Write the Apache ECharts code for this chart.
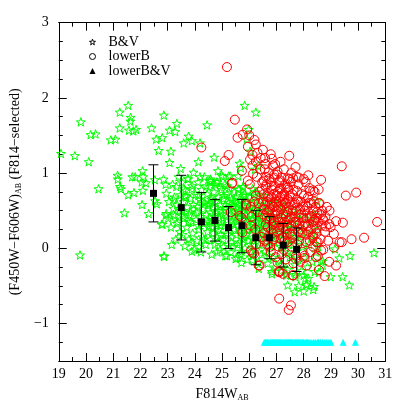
<!DOCTYPE html>
<html><head><meta charset="utf-8">
<script src="https://cdn.jsdelivr.net/npm/echarts@6/dist/echarts.min.js"></script>
<style>html,body{margin:0;padding:0;background:#fff}#c{width:407px;height:407px}</style>
</head><body><div id="c"></div>
<script>
// ---------- data ----------
const greenSparse = [[21.55,1.90],[21.24,1.81],[21.64,1.74],[21.63,1.69],[19.81,1.68],[22.86,1.77],[23.34,1.66],[21.24,1.60],[21.58,1.57],[21.84,1.58],[21.74,1.56],[22.41,1.60],[23.07,1.57],[23.28,1.55],[20.17,1.51],[20.35,1.52],[20.91,1.44],[21.08,1.45],[22.58,1.45],[22.80,1.47],[23.59,1.40],[19.08,1.26],[19.59,1.23],[20.10,1.15],[22.67,1.30],[23.12,1.29],[23.07,1.14],[23.48,1.06],[21.16,0.97],[21.17,0.92],[21.70,0.95],[21.81,0.95],[22.08,1.03],[22.10,0.95],[22.05,0.88],[22.20,0.87],[21.25,0.82],[21.28,0.79],[20.46,0.79],[22.09,0.77],[21.76,0.74],[21.55,0.71],[22.53,0.91],[22.85,0.92],[22.93,0.85],[23.32,0.82],[23.59,0.79],[22.95,0.73],[23.21,0.65],[22.06,0.58],[22.54,0.63],[22.60,0.59],[22.30,0.46],[21.41,0.47],[22.93,0.44],[22.78,0.32],[23.26,0.43],[23.34,0.33],[23.21,0.53],[22.87,-0.11],[19.78,-0.09],
[25.83,1.90],[26.24,1.81],[24.45,1.64],[23.77,1.49],[23.89,1.43],[24.19,1.40],[24.71,1.21],[24.13,1.15],[25.65,1.13],[24.85,1.03],[23.95,1.01],[24.19,0.95],[23.74,0.93],[24.57,0.92],[25.30,0.96],[25.03,0.95],[26.21,1.05],[25.98,1.58],[25.91,1.45],[26.03,1.29],[25.69,1.07],[24.98,0.97],[25.24,0.96],[25.59,0.96],[24.54,0.90],[24.83,0.88],[24.42,0.83],[24.74,0.85],[24.95,0.81],[25.18,0.83],[23.89,0.79],[23.66,0.70],[24.13,0.70],[24.60,0.68],[25.07,0.70],[25.59,0.79],[25.77,0.70],[26.12,0.79],[26.33,1.10],[23.56,0.43],[23.95,0.52],[24.48,0.57],[24.95,0.50],[25.42,0.57],[25.77,0.48],[26.35,0.43],[23.77,0.35],[24.54,0.35],[24.95,0.30],[25.36,0.37],[26.12,0.32],[25.77,0.81],
[28.50,0.63],[30.58,-0.06],[29.70,-0.10],[29.31,-0.13],[29.15,-0.01],[28.99,-0.38],[29.43,-0.38],[29.68,-0.49],[28.64,-0.18],[28.70,-0.23],[28.41,-0.31],[26.83,-0.31],[27.36,-0.36],[27.70,-0.35],[28.00,-0.36],[27.41,-0.49],[27.82,-0.50],[28.09,-0.49],[28.38,-0.51],[28.35,-0.55],[28.00,-0.57],[27.67,-0.58],[28.11,-0.48],[28.06,-0.40],[28.70,-0.17],
[22.86,-0.10],[23.89,-0.04],[23.86,0.08],[22.81,0.32],[22.95,0.46],[24.83,-0.05],[25.18,-0.10],[25.50,-0.14],[25.71,-0.19],[26.12,-0.16],[26.35,-0.27],[26.83,-0.34],[27.36,-0.34]];

const greenDense = [[23.05,0.62],[23.12,0.28],[23.18,0.85],[23.22,0.45],[23.3,0.12],[23.35,0.58],[23.4,0.95],[23.45,0.22],[23.48,0.71],[23.02,0.4],[23.25,0.68],[23.38,0.35],[23.15,0.05],[23.44,0.5],
[23.52,0.88],[23.55,0.18],[23.58,0.62],[23.6,0.4],[23.63,0.03],[23.66,0.77],[23.7,0.28],[23.72,0.55],[23.75,0.92],[23.78,0.12],[23.8,0.45],[23.83,0.66],[23.86,0.35],[23.9,0.83],[23.92,0.2],[23.95,0.58],[23.98,-0.02],[23.54,0.5],[23.68,0.68],[23.84,0.48],
[24.02,0.72],[24.04,0.38],[24.07,0.1],[24.1,0.55],[24.12,0.88],[24.15,0.25],[24.18,0.65],[24.2,0.42],[24.22,-0.05],[24.25,0.78],[24.28,0.15],[24.3,0.52],[24.32,0.33],[24.35,0.95],[24.37,0.6],[24.4,0.05],[24.42,0.45],[24.45,0.72],[24.47,0.22],[24.5,0.58],[24.06,0.48],[24.16,0.02],[24.26,0.62],[24.33,0.12],[24.44,0.36],[24.13,0.3],
[24.52,0.3],[24.54,0.82],[24.56,0.12],[24.58,0.48],[24.6,0.65],[24.62,-0.08],[24.64,0.38],[24.66,0.55],[24.68,0.2],[24.7,0.75],[24.72,0.42],[24.74,0.05],[24.76,0.62],[24.78,0.3],[24.8,0.88],[24.82,0.15],[24.84,0.5],[24.86,0.68],[24.88,0.25],[24.9,0.4],[24.92,-0.02],[24.94,0.58],[24.96,0.35],[24.98,0.78],[24.55,0.6],[24.65,0.28],[24.75,0.48],[24.85,0.08],[24.95,0.18],[24.61,0.9],
[25.02,0.45],[25.04,0.12],[25.06,0.66],[25.08,0.3],[25.1,0.85],[25.12,-0.1],[25.14,0.52],[25.16,0.2],[25.18,0.72],[25.2,0.38],[25.22,0.05],[25.24,0.6],[25.26,0.28],[25.28,0.8],[25.3,0.45],[25.32,-0.05],[25.34,0.15],[25.36,0.65],[25.38,0.35],[25.4,0.55],[25.42,0.02],[25.44,0.75],[25.46,0.25],[25.48,0.48],[25.05,0.02],[25.15,0.42],[25.25,0.5],[25.35,0.08],[25.45,0.62],[25.11,0.58],[25.31,0.68],[25.21,0.18],[25.41,0.32],
[25.5,0.68],[25.52,0.18],[25.54,0.42],[25.56,-0.12],[25.58,0.58],[25.6,0.3],[25.62,0.78],[25.64,0.08],[25.66,0.5],[25.68,0.22],[25.7,0.65],[25.72,-0.04],[25.74,0.38],[25.76,0.12],[25.78,0.55],[25.8,0.28],[25.82,0.72],[25.84,0.0],[25.86,0.45],[25.88,0.18],[25.9,0.62],[25.92,-0.15],[25.94,0.35],[25.96,0.1],[25.98,0.52],[25.53,0.6],[25.63,0.4],[25.73,0.25],[25.83,0.58],[25.93,0.25],[25.57,0.05],[25.67,-0.08],[25.77,0.82],[25.87,0.7],[25.97,0.4],[25.61,0.48],[25.81,0.15],
[26.0,0.3],[26.02,0.68],[26.04,0.05],[26.06,0.45],[26.08,0.2],[26.1,0.6],[26.12,-0.1],[26.14,0.38],[26.16,0.12],[26.18,0.52],[26.2,0.28],[26.22,0.75],[26.24,-0.02],[26.26,0.42],[26.28,0.15],[26.3,0.58],[26.32,0.32],[26.34,-0.18],[26.36,0.48],[26.38,0.05],[26.4,0.65],[26.42,0.25],[26.44,0.4],[26.46,-0.08],[26.48,0.55],[26.03,0.55],[26.13,0.25],[26.23,0.62],[26.33,0.08],[26.43,0.18],[26.07,-0.05],[26.17,0.72],[26.27,0.35],[26.37,0.7],[26.47,0.3],[26.11,0.4],[26.31,0.45],
[26.5,0.22],[26.53,0.5],[26.56,-0.05],[26.59,0.35],[26.62,0.1],[26.65,0.6],[26.68,-0.2],[26.71,0.28],[26.74,0.45],[26.77,0.02],[26.8,0.55],[26.83,0.18],[26.86,-0.12],[26.89,0.4],[26.92,0.08],[26.95,0.3],[26.98,-0.25],[26.55,0.7],[26.64,0.38],[26.73,-0.1],[26.82,0.32],[26.91,0.62],[26.6,0.15],[26.7,0.5],[26.88,0.2],
[27.01,0.4],[27.04,0.12],[27.07,-0.15],[27.1,0.28],[27.13,0.5],[27.16,0.02],[27.19,0.35],[27.22,-0.22],[27.25,0.18],[27.28,0.45],[27.31,-0.05],[27.34,0.25],[27.37,0.08],[27.4,-0.28],[27.43,0.38],[27.46,0.12],[27.49,-0.12],[27.06,0.6],[27.18,-0.3],[27.3,0.55],[27.42,0.05],[27.12,0.2],[27.36,0.32],
[27.52,0.2],[27.56,-0.08],[27.6,0.32],[27.64,0.05],[27.68,-0.22],[27.72,0.15],[27.76,0.4],[27.8,-0.15],[27.84,0.1],[27.88,0.28],[27.92,-0.3],[27.96,0.02],[27.58,0.5],[27.7,-0.38],[27.82,0.45],[27.94,0.2],
[28.02,-0.12],[28.08,0.22],[28.14,-0.25],[28.2,0.05],[28.26,0.35],[28.32,-0.18],[28.38,0.12],[28.44,-0.05],[28.5,0.25],[28.56,-0.32],[28.05,0.4],[28.17,-0.4],[28.29,0.18],[28.41,0.45],[28.53,0.02]];

const redSparse = [[25.18,2.41],[25.47,1.71],[25.92,1.58],[25.76,1.51],[25.57,1.47],[26.00,1.50],[26.19,1.44],[26.24,1.38],[26.50,1.31],[25.95,1.35],[26.30,1.27],[26.12,1.24],[24.24,1.34],[25.24,1.24],[25.10,1.16],[26.79,1.25],[26.83,1.19],[27.47,1.23],[26.03,1.18],[26.24,1.15],[26.59,1.12],[27.70,1.08],[25.73,1.03],[26.14,0.99],[26.41,1.05],[26.71,1.01],[27.04,1.02],[27.82,0.94],[28.17,0.97],[27.41,0.93],[27.61,0.93],[25.38,0.87],[25.95,0.90],[26.53,0.90],[26.91,0.94],[27.18,0.94],[28.23,0.76],[26.83,0.83],[26.47,0.79],[27.12,0.79],[27.41,0.81],[27.76,0.76],[26.24,0.70],[25.89,0.59],[26.77,0.65],[27.29,0.65],[28.06,0.57],[28.25,0.43],
[29.40,1.09],[29.55,0.70],[29.93,0.74],[28.64,0.91],[28.35,0.77],[30.70,0.35],[29.19,0.36],[29.44,0.34],[28.56,0.60],[28.64,0.44],[28.73,0.37],[28.94,0.32],[29.11,0.19],[30.22,0.14],[29.76,0.12],[29.32,0.08],[29.40,0.08],[29.11,0.01],[28.52,0.08],
[28.99,0.28],[28.94,-0.18],[29.19,-0.23],[28.77,-0.37],[28.64,-0.03],[28.52,-0.10],[28.03,-0.13],[28.11,-0.23],[27.70,-0.14],[27.12,-0.31],[27.62,-0.36],[28.35,0.49],[28.58,0.46],[28.70,0.39],[28.82,0.29],[28.47,0.26],[28.35,0.17],[28.47,0.08],
[27.10,-0.67],[27.53,-0.76],[27.45,-0.82],[28.56,-0.29],[27.10,-0.32],[27.59,-0.36],[26.35,-0.23],[26.12,-0.06],
[25.32,0.48],[25.71,0.41],[25.75,0.21],[26.06,-0.03],[26.18,-0.07],[26.38,-0.23],[27.04,-0.19],[27.08,-0.31],[27.23,-0.34],[25.89,0.57],[26.06,0.55],[26.77,0.02],[25.65,0.43],[25.36,0.86]];

const redDense = [[26.02,0.85],[26.08,0.42],[26.12,1.1],[26.18,0.62],[26.22,0.25],[26.28,0.95],[26.32,0.48],[26.38,0.75],[26.42,1.2],[26.46,0.15],[26.05,0.3],[26.25,0.05],[26.35,0.6],[26.48,0.88],
[26.51,0.45],[26.53,0.72],[26.55,0.2],[26.57,1.05],[26.59,0.58],[26.61,0.32],[26.63,0.85],[26.65,0.05],[26.67,0.48],[26.69,0.68],[26.71,0.15],[26.73,0.92],[26.75,0.38],[26.77,0.6],[26.79,-0.05],[26.81,0.25],[26.83,0.78],[26.85,0.45],[26.87,1.1],[26.89,0.12],[26.91,0.55],[26.93,0.35],[26.95,0.82],[26.97,-0.12],[26.99,0.62],[26.54,0.52],[26.62,0.95],[26.68,0.28],[26.74,0.7],[26.8,0.4],[26.86,0.2],[26.92,0.98],[26.98,0.3],[26.58,0.1],[26.66,0.62],[26.72,0.5],[26.78,0.88],[26.84,0.58],[26.9,0.72],[26.96,0.48],
[27.01,0.5],[27.03,0.22],[27.05,0.75],[27.07,0.38],[27.09,0.02],[27.11,0.62],[27.13,0.9],[27.15,0.3],[27.17,0.52],[27.19,-0.08],[27.21,0.7],[27.23,0.15],[27.25,0.45],[27.27,1.05],[27.29,0.35],[27.31,0.6],[27.33,-0.15],[27.35,0.25],[27.37,0.8],[27.39,0.48],[27.41,0.08],[27.43,0.65],[27.45,0.38],[27.47,0.92],[27.49,0.2],[27.04,0.45],[27.1,0.88],[27.16,0.12],[27.22,0.58],[27.28,0.72],[27.34,0.42],[27.4,0.3],[27.46,0.55],[27.08,0.28],[27.14,0.68],[27.2,0.4],[27.26,-0.02],[27.32,0.85],[27.38,0.18],[27.44,0.78],[27.02,0.98],[27.24,0.28],
[27.51,0.62],[27.54,0.3],[27.57,0.02],[27.6,0.5],[27.63,0.78],[27.66,0.18],[27.69,0.42],[27.72,-0.1],[27.75,0.65],[27.78,0.3],[27.81,0.85],[27.84,0.1],[27.87,0.52],[27.9,0.25],[27.93,0.72],[27.96,-0.05],[27.99,0.4],[27.53,0.88],[27.59,0.15],[27.65,0.58],[27.71,0.35],[27.77,0.05],[27.83,0.45],[27.89,0.62],[27.95,0.2],[27.62,-0.2],[27.74,0.95],[27.86,-0.18],[27.98,0.55],[27.56,0.42],[27.8,0.22],
[28.01,0.7],[28.05,0.32],[28.09,0.08],[28.13,0.55],[28.17,0.22],[28.21,0.8],[28.25,-0.05],[28.29,0.42],[28.33,0.15],[28.37,0.62],[28.41,0.3],[28.45,-0.12],[28.49,0.48],[28.03,-0.1],[28.11,0.4],[28.19,0.6],[28.27,0.25],[28.35,0.02],[28.43,0.55],[28.07,0.88],[28.23,0.1],[28.39,0.38],[28.15,0.3],[28.47,0.2],
[28.52,0.35],[28.58,0.6],[28.62,0.12],[28.68,0.5],[28.72,-0.02],[28.78,0.22],[28.85,0.55],[28.9,0.1],[28.55,0.78],[28.66,0.3],[28.8,0.42],[28.95,0.5],
[26.52,0.62],[26.6,0.82],[26.64,0.4],[26.7,0.05],[26.76,0.52],[26.82,0.68],[26.88,0.32],[26.94,0.15],[27.0,0.7],[27.06,0.55],[27.12,0.35],[27.18,0.8],[27.24,0.62],[27.3,0.1],[27.36,0.6],[27.42,0.48],[27.48,0.7],[27.5,0.4],[27.55,0.18],[27.58,0.72],[27.64,0.35],[27.68,0.6],[27.73,0.5],[27.79,0.62],[27.85,0.32],[27.91,0.45],[27.97,0.3],[28.04,0.5],[28.1,0.18],[28.16,0.68],[28.22,0.4],[28.28,0.6],[28.34,0.35],[28.4,0.75],[28.46,0.4],[26.58,1.2],[26.95,1.12],[27.15,1.15],[27.55,1.0],[28.0,0.92]];

const lowerBVx = [26.55,26.6,26.64,26.68,26.72,26.77,26.8,26.85,26.88,26.92,26.96,27.0,27.04,27.08,27.12,27.15,27.2,27.24,27.28,27.32,27.36,27.4,27.44,27.48,27.52,27.56,27.6,27.65,27.7,27.74,27.78,27.82,27.86,27.9,27.95,28.0,28.05,28.1,28.15,28.2,28.27,28.35,28.42,28.5,28.55,28.62,28.7,28.78,28.85,28.93,29.0,29.45,29.9];
const lowerBVy = -1.25;

const binX  = [22.48, 23.5, 24.24, 24.74, 25.24, 25.73, 26.24, 26.74, 27.25, 27.74];
const binY  = [0.73, 0.54, 0.35, 0.37, 0.275, 0.30, 0.14, 0.14, 0.04, -0.015];
const binHi = [1.11, 0.97, 0.74, 0.65, 0.555, 0.65, 0.505, 0.42, 0.33, 0.27];
const binLo = [0.35, 0.11, -0.05, 0.095, -0.005, -0.06, -0.22, -0.14, -0.25, -0.31];

const yLabelValues = [-1, 0, 1, 2, 3];
const legendNames = ['B&V', 'lowerB', 'lowerB&V'];

// ---------- chart ----------
const FONT = 'Liberation Serif';
const STAR = 'path://M0,-10L2.35,-3.24L9.51,-3.09L3.8,1.24L5.88,8.09L0,4L-5.88,8.09L-3.8,1.24L-9.51,-3.09L-2.35,-3.24Z';
const chart = echarts.init(document.getElementById('c'), null, {renderer: 'canvas'});
const fmtNum = v => String(v).replace('-', '\u2212');
const axisLine = {show: true, onZero: false, lineStyle: {color: '#000', width: 1}};
const tickStyle = {color: '#000', width: 1};

function xAx(pos, labels) {
  return {
    type: 'value', min: 19, max: 31, interval: 1, position: pos,
    axisLine: axisLine,
    axisTick: {inside: true, length: 8, lineStyle: tickStyle},
    minorTick: {show: true, splitNumber: 2, length: 4, lineStyle: tickStyle},
    axisLabel: {show: labels, fontFamily: FONT, fontSize: 14, color: '#000', margin: 6},
    splitLine: {show: false}, minorSplitLine: {show: false},
    name: labels ? '{a|F814W}{b|AB}' : '', nameLocation: 'middle', nameGap: 25,
    nameTextStyle: {rich: {a: {fontFamily: FONT, fontSize: 14, color: '#000'}, b: {fontFamily: FONT, fontSize: 8, color: '#000', padding: [8, 0, 0, 0]}}}
  };
}
function yMinor(pos, labels) {
  return {
    type: 'value', min: -1.5, max: 3, interval: 0.25, position: pos,
    axisLine: axisLine,
    axisTick: {inside: true, length: 4, lineStyle: tickStyle},
    axisLabel: {show: labels, customValues: yLabelValues, formatter: fmtNum, fontFamily: FONT, fontSize: 14, color: '#000', margin: 10},
    splitLine: {show: false},
    name: labels ? '{a|(F450W\u2212F606W)}{b|AB}{a| (F814\u2212selected)}' : '', nameLocation: 'middle', nameGap: 31, nameRotate: 90,
    nameTextStyle: {rich: {a: {fontFamily: FONT, fontSize: 14, color: '#000'}, b: {fontFamily: FONT, fontSize: 8, color: '#000', padding: [8, 0, 0, 0]}}}
  };
}
function yMajor(pos) {
  return {
    type: 'value', min: -1.5, max: 3, position: pos,
    axisLine: axisLine,
    axisTick: {inside: true, length: 8, customValues: yLabelValues, lineStyle: tickStyle},
    axisLabel: {show: false},
    splitLine: {show: false}
  };
}

const option = {
  animation: false,
  backgroundColor: '#fff',
  grid: {left: 44.3, right: 21.7, top: 22.7, bottom: 44.2, containLabel: false},
  xAxis: [xAx('bottom', true), xAx('top', false)],
  yAxis: [yMinor('left', true), yMajor('left'), yMinor('right', false), yMajor('right')],
  legend: {
    orient: 'vertical', left: 87, top: 35, padding: 0, itemWidth: 6, itemHeight: 6, itemGap: 0.5,
    textStyle: {fontFamily: FONT, fontSize: 14, color: '#000', lineHeight: 14, padding: [0, 0, 0, 8]},
    data: [
      {name: legendNames[0], icon: STAR, itemStyle: {color: 'none', borderColor: '#000', borderWidth: 1}},
      {name: legendNames[1], icon: 'circle', itemStyle: {color: 'none', borderColor: '#000', borderWidth: 1}},
      {name: legendNames[2], icon: 'triangle', itemStyle: {color: '#000', borderWidth: 0}}
    ],
    selectedMode: false
  },
  series: [
    {
      name: legendNames[0], type: 'scatter', xAxisIndex: 0, yAxisIndex: 0, z: 1,
      symbol: STAR, symbolSize: 9, symbolKeepAspect: true,
      itemStyle: {color: 'none', borderColor: '#00ff00', borderWidth: 1, opacity: 1},
      data: greenSparse.concat(greenDense)
    },
    {
      name: legendNames[1], type: 'scatter', xAxisIndex: 0, yAxisIndex: 0, z: 2,
      symbol: 'circle', symbolSize: 9,
      itemStyle: {color: 'none', borderColor: '#ff0000', borderWidth: 1, opacity: 1},
      data: redSparse.concat(redDense)
    },
    {
      name: legendNames[2], type: 'scatter', xAxisIndex: 0, yAxisIndex: 0, z: 3,
      symbol: 'triangle', symbolSize: 7,
      itemStyle: {color: '#00ffff', opacity: 1},
      data: lowerBVx.map(x => [x, lowerBVy])
    },
    {
      type: 'custom', xAxisIndex: 0, yAxisIndex: 0, z: 4,
      encode: {x: 0, y: [1, 2]},
      data: binX.map((x, i) => [x, binHi[i], binLo[i]]),
      renderItem: function (params, api) {
        const hi = api.coord([api.value(0), api.value(1)]);
        const lo = api.coord([api.value(0), api.value(2)]);
        const w = 5;
        const st = {stroke: '#000', lineWidth: 1};
        return {type: 'group', children: [
          {type: 'line', shape: {x1: hi[0], y1: hi[1], x2: lo[0], y2: lo[1]}, style: st},
          {type: 'line', shape: {x1: hi[0] - w, y1: hi[1], x2: hi[0] + w, y2: hi[1]}, style: st},
          {type: 'line', shape: {x1: lo[0] - w, y1: lo[1], x2: lo[0] + w, y2: lo[1]}, style: st}
        ]};
      }
    },
    {
      type: 'scatter', xAxisIndex: 0, yAxisIndex: 0, z: 5,
      symbol: 'rect', symbolSize: 7,
      itemStyle: {color: '#000', opacity: 1},
      data: binX.map((x, i) => [x, binY[i]])
    }
  ]
};
chart.setOption(option);
</script></body></html>
